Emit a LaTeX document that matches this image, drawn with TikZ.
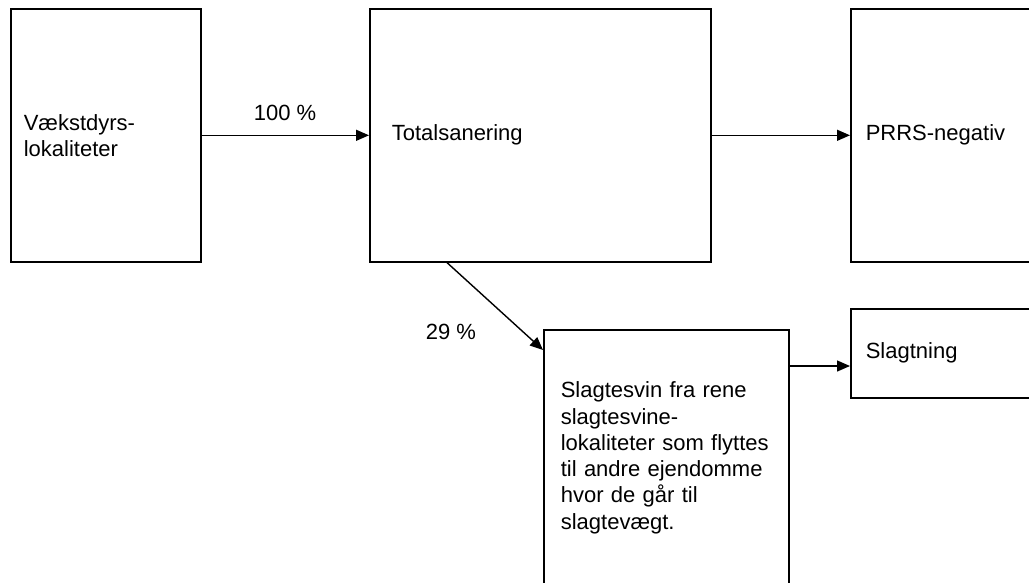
\documentclass[tikz,border=0pt]{standalone}
\usepackage{fontspec}
\setmainfont{Liberation Sans}
\usetikzlibrary{positioning,arrows.meta}
\tikzset{
  box/.style={draw, line width=1.6pt, anchor=north west, align=left, inner ysep=0pt},
  flow/.style={line width=1.4pt, -{Triangle[length=13pt,width=11pt]}},
}
\begin{document}
\begin{tikzpicture}[x=1pt, y=-1pt, font=\fontsize{22}{26.3}\selectfont]
    \useasboundingbox (0,0) rectangle (1029,582);
    \clip (0,0) rectangle (1029,582);
    \node[box, minimum width=190pt, minimum height=253pt, inner xsep=13pt, text width=164pt] (vaekst) at (10,8) {Vækstdyrs-\\lokaliteter};
    \node[box, minimum width=341pt, minimum height=253pt, inner xsep=22pt, text width=297pt, right=167.4pt of vaekst] (total) {Totalsanering};
    \node[box, minimum width=190pt, minimum height=253pt, inner xsep=15pt, text width=160pt, right=138.4pt of total] (prrs) {PRRS-negativ};
    \node[box, minimum width=245pt, minimum height=256pt, inner xsep=17pt, text width=211pt] (slagtesvin) at (543,329)
      {Slagtesvin fra rene\\slagtesvine-\\lokaliteter som flyttes\\til andre ejendomme\\hvor de går til\\slagtevægt.};
    \node[box, minimum width=190pt, minimum height=89pt, inner xsep=15pt, text width=160pt] (slagtning) at (850,308) {Slagtning};
    % labels
    \node (p100) at (285,113) {100 \%};
    \node (p29) at (451,332) {29 \%};
    % arrows
    \draw[flow] (vaekst.east) -- (total.west);
    \draw[flow] (total.east) -- (prrs.west);
    \draw[flow] ([xshift=78pt]total.south west) -- ([yshift=-21pt]slagtesvin.north west);
    \coordinate (ud) at ([yshift=-37pt]slagtesvin.north east);
    \draw[flow] (ud) -- (ud -| slagtning.west);
\end{tikzpicture}
\end{document}
